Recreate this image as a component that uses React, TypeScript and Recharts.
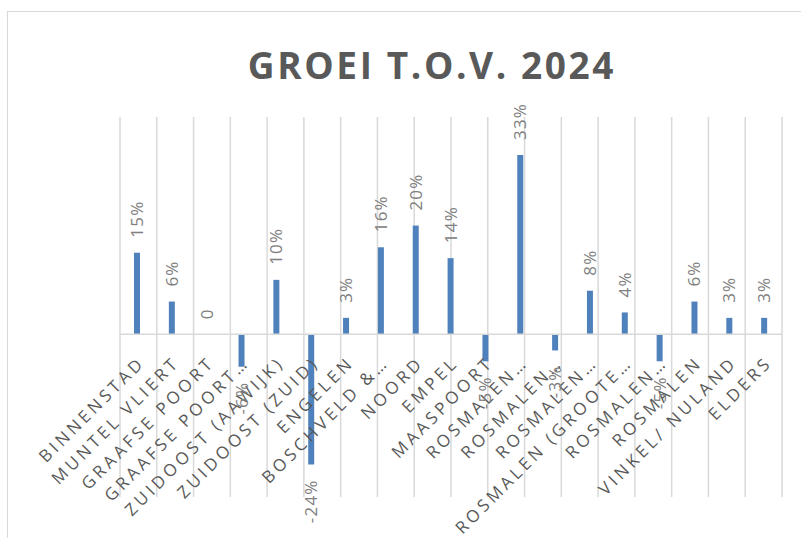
import React from 'react'
import { BarChart, Bar, XAxis, YAxis, CartesianGrid, ReferenceLine, LabelList } from 'recharts'

const categories: string[] = [
  'BINNENSTAD', 'MUNTEL VLIERT', 'GRAAFSE POORT', 'GRAAFSE POORT…', 'ZUIDOOST (AAWIJK)',
  'ZUIDOOST (ZUID)', 'ENGELEN', 'BOSCHVELD &…', 'NOORD', 'EMPEL', 'MAASPOORT',
  'ROSMALEN…', 'ROSMALEN…', 'ROSMALEN…', 'ROSMALEN (GROOTE…', 'ROSMALEN…',
  'ROSMALEN', 'VINKEL/ NULAND', 'ELDERS'
]
const growth: number[] = [
  0.15, 0.06, 0, -0.06, 0.10, -0.24, 0.03, 0.16, 0.20, 0.14, -0.05,
  0.33, -0.03, 0.08, 0.04, -0.05, 0.06, 0.03, 0.03
]
const gridTicks: number[] = categories.map((_, i) => i).concat([categories.length])

const yMin = -0.3
const yMax = 0.4
const plotTop = 105
const plotBottom = 41
const chartH = 526
const plotH = chartH - plotTop - plotBottom
const zeroFromBottom = plotH * (0 - yMin) / (yMax - yMin)

const data = categories.map((name, i) => ({ name, value: growth[i] }))

const fmt = (v: number) => (v === 0 ? '0' : `${Math.round(v * 100)}%`)

const CategoryTick = (props: any) => {
  const { x, y, payload } = props
  return (
    <text
      x={0}
      y={0}
      transform={`translate(${x + 8.5},${y - zeroFromBottom + 21.5}) rotate(-45)`}
      textAnchor="end"
      fill="#595959"
      fontSize={17}
      letterSpacing={3.6}
      fontFamily="'Open Sans', sans-serif"
    >
      {payload.value}
    </text>
  )
}

const ValueLabel = (props: any) => {
  const { x, y, width, height, value } = props
  const cx = x + width / 2 + 6
  const top = Math.min(y, y + height)
  const bottom = Math.max(y, y + height)
  const neg = value < 0
  const ly = neg ? bottom + 15 : top - 15
  return (
    <text
      x={0}
      y={0}
      transform={`translate(${cx},${ly}) rotate(-90)`}
      textAnchor={neg ? 'end' : 'start'}
      fill="#808080"
      fontSize={17}
      letterSpacing={1.2}
      fontFamily="'Open Sans', sans-serif"
    >
      {fmt(value)}
    </text>
  )
}

const App: React.FC = () => {
  return (
    <div style={{ position: 'fixed', left: 0, top: 0, width: 801, height: 538, overflow: 'hidden', background: '#fff' }}>
      <div style={{ position: 'absolute', left: 7, top: 11, width: 830, height: 560, border: '1px solid #d9d9d9' }} />
      <svg style={{ position: 'absolute', left: 0, top: 0 }} width={801} height={100}>
        <text
          x={432}
          y={79}
          textAnchor="middle"
          fill="#595959"
          fontSize={37}
          fontWeight="bold"
          letterSpacing={2.6}
          fontFamily="'Open Sans', sans-serif"
        >
          GROEI T.O.V. 2024
        </text>
      </svg>
      <div style={{ position: 'absolute', left: 8, top: 12 }}>
        <BarChart width={793} height={chartH} data={data} margin={{ top: plotTop, right: 19, bottom: plotBottom - 1, left: 112 }}>
          <XAxis xAxisId="grid" type="number" domain={[0, categories.length]} ticks={gridTicks} allowDataOverflow hide />
          <CartesianGrid xAxisId="grid" horizontal={false} stroke="#d9d9d9" strokeWidth={1.5} />
          <XAxis dataKey="name" height={1} axisLine={false} tickLine={false} tick={<CategoryTick />} interval={0} />
          <YAxis domain={[yMin, yMax]} hide />
          <ReferenceLine y={0} stroke="#d9d9d9" strokeWidth={1.5} />
          <Bar dataKey="value" fill="#4f81bd" barSize={6} minPointSize={0.01} isAnimationActive={false}>
            <LabelList dataKey="value" content={<ValueLabel />} />
          </Bar>
        </BarChart>
      </div>
    </div>
  )
}

export default App
